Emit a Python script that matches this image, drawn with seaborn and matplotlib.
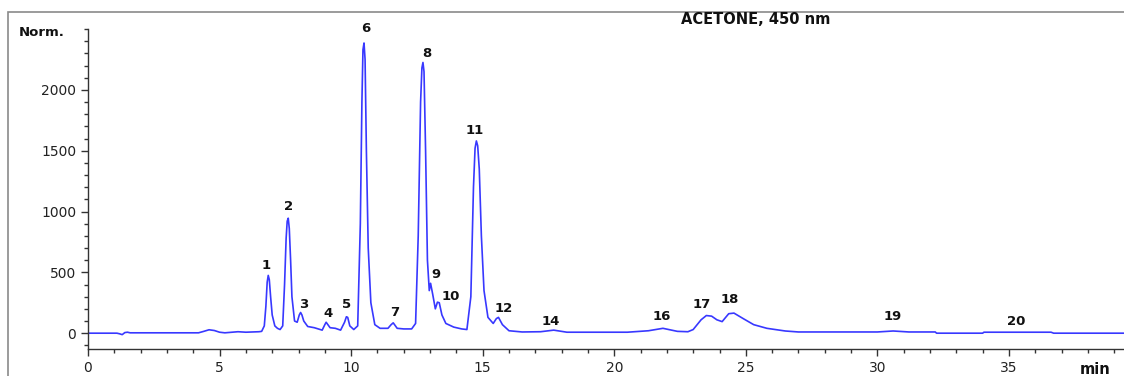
import matplotlib
matplotlib.use("Agg")
import matplotlib.pyplot as plt
import matplotlib.patches as mpatches
from matplotlib.ticker import MultipleLocator
import seaborn as sns
import pandas as pd

# Retention time (min) and detector signal (Norm.)
time_min = [0, 1.1, 1.2, 1.3, 1.4, 1.5, 1.6, 4.2, 4.4, 4.6, 4.8, 5.0, 5.2, 5.5, 5.7, 6.0,
            6.5, 6.6, 6.7, 6.76, 6.81, 6.85, 6.89, 6.94, 7.0, 7.1, 7.2, 7.3, 7.4, 7.47,
            7.53, 7.57, 7.61, 7.65, 7.7, 7.75, 7.85, 7.95, 8.03, 8.08, 8.13, 8.2, 8.35,
            8.6, 8.9, 9.0, 9.05, 9.1, 9.2, 9.4, 9.6, 9.75, 9.82, 9.87, 9.95, 10.1, 10.25,
            10.35, 10.41, 10.45, 10.49, 10.53, 10.58, 10.65, 10.75, 10.9, 11.1, 11.4,
            11.52, 11.6, 11.75, 12.0, 12.3, 12.45, 12.55, 12.64, 12.69, 12.73, 12.77,
            12.83, 12.9, 12.97, 13.02, 13.1, 13.2, 13.28, 13.35, 13.45, 13.6, 13.9,
            14.2, 14.4, 14.55, 14.65, 14.71, 14.76, 14.81, 14.87, 14.95, 15.05, 15.2,
            15.4, 15.52, 15.6, 15.75, 16.0, 16.5, 17.2, 17.7, 18.2, 20.5, 21.3, 21.85,
            22.4, 22.8, 23.0, 23.3, 23.5, 23.7, 23.9, 24.1, 24.35, 24.55, 24.9, 25.3,
            25.8, 26.5, 27.0, 30.0, 30.6, 31.2, 32.2, 32.25, 34.0, 34.05, 36.6, 36.7,
            39.8]
signal = [0, 0, -5, -12, 5, 8, 3, 3, 15, 28, 22, 8, 3, 8, 12, 8,
          12, 15, 60, 220, 420, 475, 440, 300, 150, 60, 40, 30, 60, 400,
          780, 920, 945, 860, 600, 300, 100, 90, 150, 170, 150, 100, 55,
          45, 25, 70, 90, 75, 45, 40, 25, 90, 135, 130, 60, 30, 60,
          900, 1900, 2330, 2385, 2250, 1500, 700, 250, 70, 40, 40,
          70, 85, 40, 35, 35, 80, 800, 1900, 2180, 2225, 2150,
          1500, 600, 350, 410, 320, 200, 255, 250, 150, 80, 50,
          35, 30, 300, 1200, 1520, 1580, 1540, 1350, 800, 350, 130,
          80, 120, 130, 70, 20, 10, 12, 25, 8, 8, 20, 40,
          15, 12, 30, 110, 145, 140, 110, 95, 160, 165, 120, 70,
          40, 18, 10, 10, 18, 10, 10, 0, 0, 8, 8, 0,
          0]

# Peak labels and their positions
peak_labels = ["1", "2", "3", "4", "5", "6", "7", "8", "9", "10", "11", "12",
               "14", "16", "17", "18", "19", "20"]
label_x = [6.77, 7.62, 8.19, 9.12, 9.81, 10.54, 11.65, 12.88, 13.23, 13.77, 14.69,
           15.81, 17.58, 21.81, 23.31, 24.38, 30.58, 35.27]
label_y = [553, 1038, 239, 165, 239, 2504, 173, 2298, 486, 305, 1664,
           206, 99, 140, 239, 280, 140, 99]

x_ticks = [0, 5, 10, 15, 20, 25, 30, 35]
y_ticks = [0, 500, 1000, 1500, 2000]

sns.set_style("ticks")
plt.rcParams['font.family'] = ['DejaVu Sans']

fig = plt.figure(figsize=(11.24, 3.76), dpi=100)
# outer frame
fig.patches.append(mpatches.Rectangle((7.5 / 1124, -0.05), 1.2, 1 - 11.5 / 376 + 0.05,
                                      transform=fig.transFigure, fill=False,
                                      edgecolor="#8a8a8a", linewidth=1.2))
ax = fig.add_axes([88 / 1124, 1 - 349 / 376, 1 - 88 / 1124 + 0.01, (349 - 29) / 376])

df = pd.DataFrame({"time": time_min, "signal": signal})
sns.lineplot(data=df, x="time", y="signal", ax=ax, color="#3838ff", linewidth=1.2,
             estimator=None, sort=False)

ax.set_xlim(0, 39.8)
ax.set_ylim(-130, 2500)
ax.set_xticks(x_ticks)
ax.set_yticks(y_ticks)
ax.xaxis.set_minor_locator(MultipleLocator(1))
ax.yaxis.set_minor_locator(MultipleLocator(100))
ax.tick_params(axis="both", which="major", length=5, width=1, color="#333333",
               labelsize=10, labelcolor="#222222", direction="out")
ax.tick_params(axis="both", which="minor", length=3, width=1, color="#333333",
               direction="out")
ax.set_xlabel("")
ax.set_ylabel("")
for s in ["top", "right"]:
    ax.spines[s].set_visible(False)
for s in ["left", "bottom"]:
    ax.spines[s].set_color("#333333")
    ax.spines[s].set_linewidth(1)

for lab, lx, ly in zip(peak_labels, label_x, label_y):
    ax.text(lx, ly, lab, ha="center", va="center", fontsize=9.5, fontweight="bold",
            color="#111111")

fig.text(19 / 1124, 1 - 33 / 376, "Norm.", ha="left", va="center", fontsize=9.5,
         fontweight="bold", color="#111111")
fig.text(1095 / 1124, 1 - 370 / 376, "min", ha="center", va="center", fontsize=10.5,
         fontweight="bold", color="#111111")
fig.text(756 / 1124, 1 - 20 / 376, "ACETONE, 450 nm", ha="center", va="center",
         fontsize=10.5, fontweight="bold", color="#111111")

fig.savefig("out.png", dpi=100)
